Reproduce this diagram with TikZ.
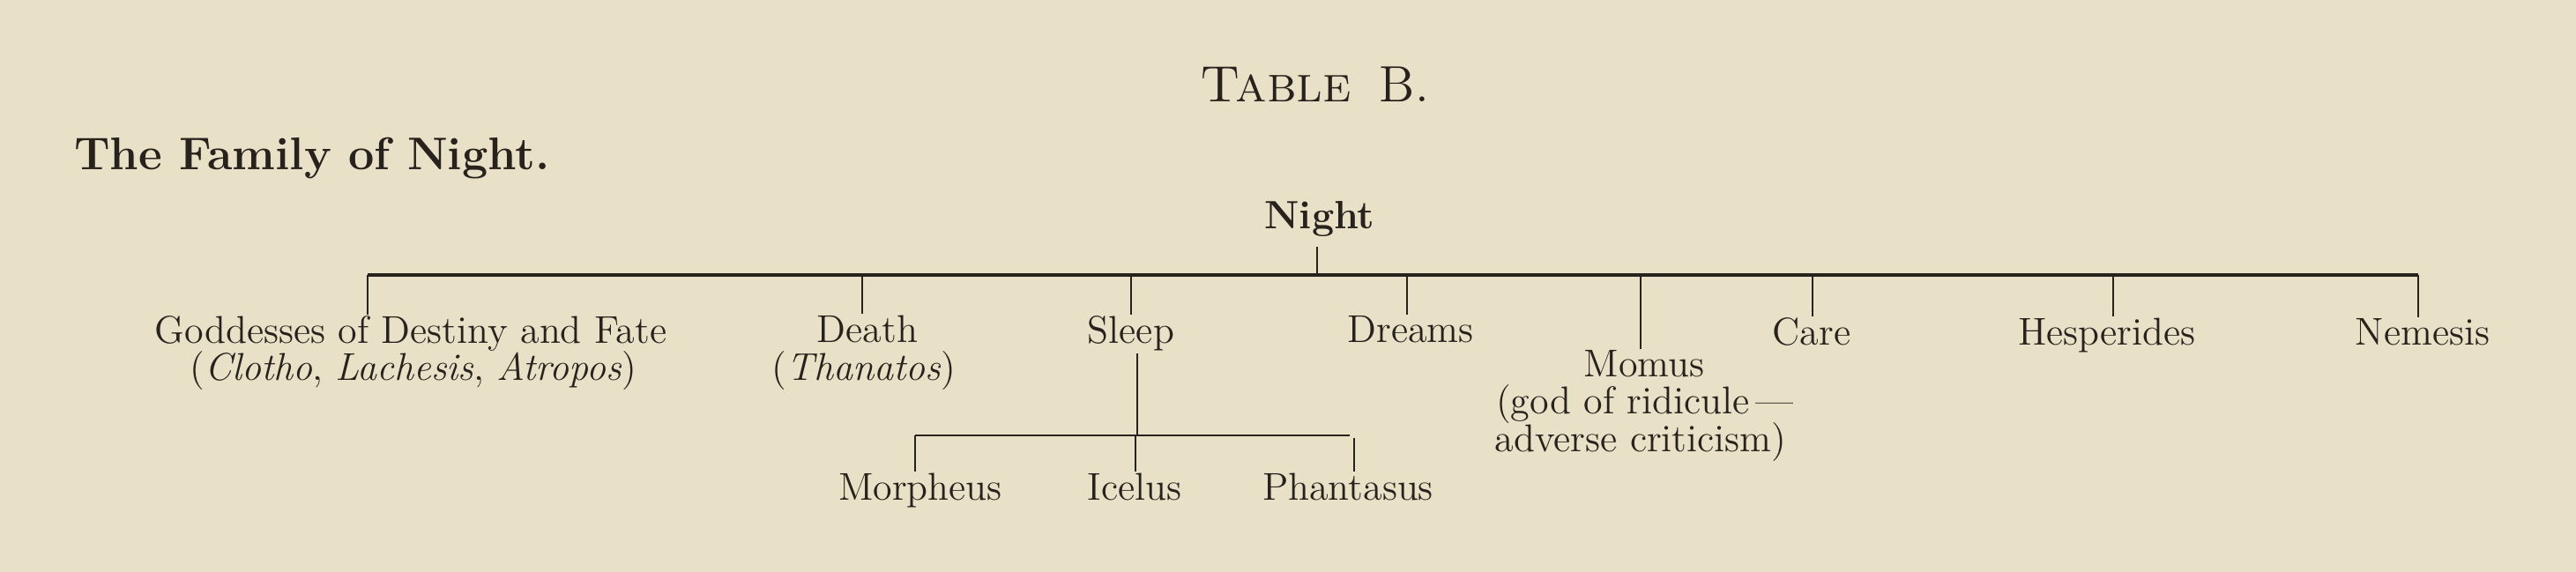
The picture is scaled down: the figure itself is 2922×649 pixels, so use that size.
\documentclass[tikz,border=0pt]{standalone}
\usepackage{fontspec}
\definecolor{paper}{RGB}{233,224,200}
\definecolor{ink}{RGB}{40,34,28}
\begin{document}
\begin{tikzpicture}[x=0.25pt,y=-0.25pt,
  every node/.style={inner sep=0pt,outer sep=0pt,text=ink},
  lbl/.style={anchor=base,font=\fontsize{11}{10.5}\selectfont},
  bld/.style={anchor=base,font=\fontsize{11.2}{12}\selectfont\bfseries},
  mainbar/.style={draw=ink,line width=0.8pt},
  tick/.style={draw=ink,line width=0.5pt,shorten >=0.6pt},
  subbar/.style={draw=ink,line width=0.55pt},
]
\fill[paper] (0,0) rectangle (2922,649);
\useasboundingbox (0,0) rectangle (2922,649);

% headings
\node[anchor=base,font=\fontsize{14.5}{16}\selectfont] (title) at (1491,116) {\textsc{Table}\hspace{8pt}B.};
\node[anchor=base west,font=\fontsize{13}{15}\selectfont\bfseries] (family) at (84,193) {The Family of Night.};
\node[bld] (night) at (1497,260) {Night};

% children
\node[lbl] (god) at (466,390) {Goddesses of Destiny and Fate};
\node[lbl] (fates) at (469,432) {(\textit{Clotho}, \textit{Lachesis}, \textit{Atropos})};
\node[lbl] (death) at (984,389) {Death};
\node[lbl] (thanatos) at (980,432) {(\textit{Thanatos})};
\node[lbl] (sleep) at (1283,390) {Sleep};
\node[lbl] (dreams) at (1600,389) {Dreams};
\node[lbl] (momus) at (1865,428) {Momus};
\node[lbl] (momus2) at (1866,470) {(god of ridicule\,\textemdash};
\node[lbl] (momus3) at (1861,513) {adverse criticism)};
\node[lbl] (care) at (2055,392) {Care};
\node[lbl] (hesp) at (2390,392) {Hesperides};
\node[lbl] (nem) at (2748,392) {Nemesis};
\node[lbl] (morph) at (1044,568) {Morpheus};
\node[lbl] (icelus) at (1287,568) {Icelus};
\node[lbl] (phant) at (1529,568) {Phantasus};

% main bar
\coordinate (bL) at (417,312);
\coordinate (bR) at (2743,312);
\coordinate (bN) at (1494,312);
\draw[mainbar] (bL) -- (bR);
\draw[tick,shorten >=0pt,shorten <=2.7pt] (bN |- night.south) -- (bN);

\foreach \n/\x in {god/417, death/978, sleep/1283, dreams/1596, momus/1861, care/2056, hesp/2397, nem/2743}{
  \coordinate (t-\n) at (\x,312);
  \draw[tick] (t-\n) -- (t-\n |- \n.north);
}

% Sleep subtree
\coordinate (s0) at (1290,494);
\coordinate (sL) at (1038,494);
\coordinate (sR) at (1531,494);
\coordinate (sI) at (1288,494);
\coordinate (sP) at (1536,497);
\draw[tick,shorten >=0pt,shorten <=0.5pt] (s0 |- sleep.south) -- (s0);
\draw[subbar] (sL) -- (sR);
\draw[tick] (sL) -- (sL |- morph.north);
\draw[tick] (sI) -- (sI |- icelus.north);
\draw[tick] (sP) -- (sP |- phant.north);
\end{tikzpicture}
\end{document}
